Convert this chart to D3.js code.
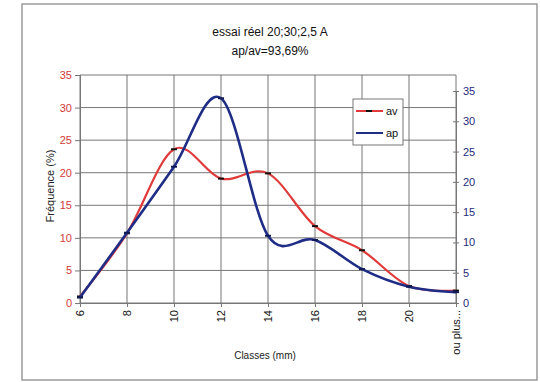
<!DOCTYPE html>
<html><head><meta charset="utf-8">
<script src="https://cdn.jsdelivr.net/npm/d3@7"></script>
<style>body{margin:0;background:#fff}svg{display:block;font-family:"Liberation Sans",Arial,sans-serif}</style>
</head><body>
<script>
const categories = ["6","8","10","12","14","16","18","20","ou plus..."];
const avValues = [1.0, 10.7, 23.6, 19.1, 19.9, 11.8, 8.1, 2.6, 1.9];
const apValues = [0.9, 11.6, 22.5, 33.8, 11.1, 10.4, 5.6, 2.7, 1.8];
const leftTicks = [0,5,10,15,20,25,30,35];
const rightTicks = [0,5,10,15,20,25,30,35];
const seriesNames = ["av","ap"];
const titleLines = ["essai réel 20;30;2,5 A","ap/av=93,69%"];

const W=540,H=382;
const svg=d3.select("body").append("svg").attr("width",W).attr("height",H);
svg.append("rect").attr("x",22).attr("y",4).attr("width",515).attr("height",376)
  .attr("fill","#fff").attr("stroke","#9a9a9a").attr("stroke-width",1.5);

const x=d3.scalePoint().domain(categories).range([80,456]);
const yL=d3.scaleLinear().domain([0,35]).range([303,75]);
const yR=d3.scaleLinear().domain([0,35]).range([303,91]);

// grid
const g=svg.append("g");
g.selectAll(".hg").data(leftTicks).join("line")
  .attr("x1",80).attr("x2",456).attr("y1",d=>yL(d)).attr("y2",d=>yL(d))
  .attr("stroke","#777").attr("stroke-width",1);
g.selectAll(".vg").data(categories).join("line")
  .attr("x1",d=>x(d)).attr("x2",d=>x(d)).attr("y1",75).attr("y2",303)
  .attr("stroke","#777").attr("stroke-width",1);

// left axis
const ax=svg.append("g").attr("transform","translate(80,0)")
  .call(d3.axisLeft(yL).tickValues(leftTicks).tickSize(5).tickPadding(3));
ax.select(".domain").attr("stroke","#777");
ax.selectAll(".tick line").attr("stroke","#777");
ax.selectAll("text").attr("fill","#d23a3a").attr("font-size",11).attr("font-family","Liberation Sans, Arial");

// right axis
const ar=svg.append("g").attr("transform","translate(456,0)")
  .call(d3.axisRight(yR).tickValues(rightTicks).tickSize(3).tickPadding(4));
ar.select(".domain").attr("stroke","#777");
ar.selectAll(".tick line").attr("stroke","#777").attr("x1",-3);
ar.selectAll("text").attr("fill","#1e2a78").attr("font-size",11).attr("font-family","Liberation Sans, Arial");

// bottom axis
const ab=svg.append("g").attr("transform","translate(0,303)")
  .call(d3.axisBottom(x).tickSize(4).tickPadding(0));
ab.select(".domain").attr("stroke","#777");
ab.selectAll(".tick line").attr("stroke","#777");
ab.selectAll("text").attr("fill","#111").attr("font-size",11)
  .attr("text-anchor","end").attr("dy","0.35em")
  .attr("transform","translate(0,7) rotate(-90)").attr("x",0).attr("y",0);

// curves
const lineL=d3.line().x((d,i)=>x(categories[i])).y(d=>yL(d)).curve(d3.curveCatmullRom.alpha(0));
const lineR=d3.line().x((d,i)=>x(categories[i])).y(d=>yR(d)).curve(d3.curveCatmullRom.alpha(0));
svg.append("path").attr("d",lineL(avValues)).attr("fill","none").attr("stroke","#e03a3a").attr("stroke-width",2.2);
svg.selectAll(".mav").data(avValues).join("line")
  .attr("x1",(d,i)=>x(categories[i])-3).attr("x2",(d,i)=>x(categories[i])+3)
  .attr("y1",d=>yL(d)).attr("y2",d=>yL(d)).attr("stroke","#111").attr("stroke-width",2);
svg.append("path").attr("d",lineR(apValues)).attr("fill","none").attr("stroke","#1f2d86").attr("stroke-width",2.6);
svg.selectAll(".map").data(apValues).join("line")
  .attr("x1",(d,i)=>x(categories[i])-3).attr("x2",(d,i)=>x(categories[i])+3)
  .attr("y1",d=>yR(d)).attr("y2",d=>yR(d)).attr("stroke","#111a55").attr("stroke-width",2);

// titles
svg.selectAll(".title").data(titleLines).join("text")
  .attr("x",270).attr("y",(d,i)=>36+i*19).attr("text-anchor","middle")
  .attr("font-size",12).attr("fill","#111").text(d=>d);
svg.append("text").attr("x",265).attr("y",359).attr("text-anchor","middle")
  .attr("font-size",10).attr("fill","#222").text("Classes (mm)");
svg.append("text").attr("transform","translate(54,186) rotate(-90)").attr("text-anchor","middle")
  .attr("font-size",11).attr("fill","#222").text("Fréquence (%)");

// legend
const lg=svg.append("g");
lg.append("rect").attr("x",353).attr("y",99).attr("width",50).attr("height",46)
  .attr("fill","#fff").attr("stroke","#777");
const colors=["#e03a3a","#1f2d86"];
seriesNames.forEach((n,i)=>{
  const yy=111+i*22;
  lg.append("line").attr("x1",356).attr("x2",383).attr("y1",yy).attr("y2",yy).attr("stroke",colors[i]).attr("stroke-width",2);
  if(i===0) lg.append("line").attr("x1",366).attr("x2",372).attr("y1",yy).attr("y2",yy).attr("stroke","#111").attr("stroke-width",2);
  lg.append("text").attr("x",386).attr("y",yy+4).attr("font-size",11).attr("fill","#111").text(n);
});
</script>
</body></html>
